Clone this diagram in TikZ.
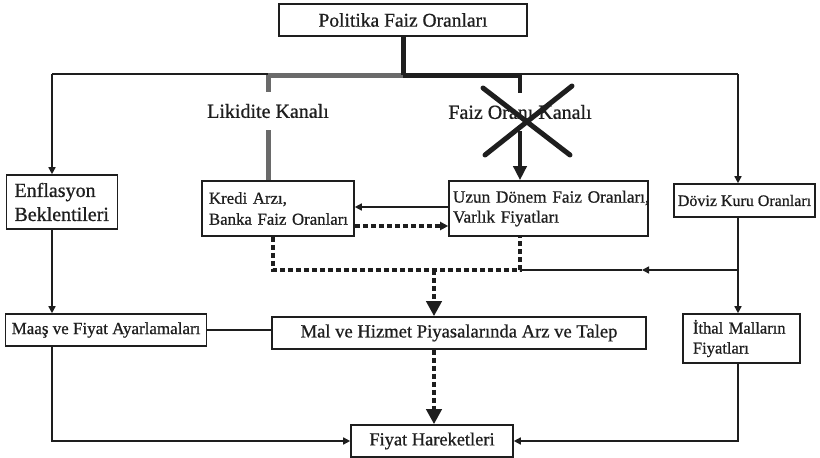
\documentclass[tikz,border=0pt]{standalone}
\usepackage{fontspec}
\setmainfont{Liberation Serif}[FakeBold=0.7]
\usetikzlibrary{arrows.meta}
\definecolor{ink}{HTML}{1E1E1E}
\definecolor{chgray}{HTML}{6A6A6A}
\newcommand{\fs}[2]{\fontsize{#1}{#2}\selectfont}
\begin{document}
\begin{tikzpicture}[x=1pt,y=-1pt,
  box/.style={draw=ink, line width=1.6pt, inner ysep=0pt, text=ink},
  lbl/.style={fill=white, inner xsep=4pt, inner ysep=12pt, text=ink},
  thinline/.style={draw=ink, line width=1.5pt},
  arr/.style={thinline, -{Triangle[length=7pt,width=7pt]}},
  bigarr/.style={draw=ink, line width=4pt, -{Triangle[length=14pt,width=13pt]}},
  dotline/.style={draw=ink, line width=4pt, dash pattern=on 5pt off 3pt},
  dotarr/.style={dotline, -{Triangle[length=15pt,width=15pt]}},
  dasharr/.style={dotline, line width=3.5pt, -{Triangle[length=8pt,width=8pt]}},
  graythick/.style={draw=chgray, line width=5pt},
  blackthick/.style={draw=ink, line width=5pt},
  crossline/.style={draw=ink, line width=5pt, line cap=round}]
\useasboundingbox (0,0) rectangle (820,458);
\fill[white] (0,0) rectangle (820,458);

% boxes
\node[box, minimum width=248pt, minimum height=32pt, font=\fs{19.5}{22}] (top) at (403,20) {Politika Faiz Oranları};
\node[box, minimum width=111pt, minimum height=54pt, inner xsep=8pt, text width=95pt, align=left, font=\fs{20}{24}] (enf) at (62,202) {\mbox{Enflasyon}\\\mbox{Beklentileri}};
\node[box, minimum width=152pt, minimum height=55pt, inner xsep=7pt, text width=138pt, align=left, font=\fs{16.8}{21}] (kredi) at (278,208.5) {\mbox{Kredi Arzı,}\\\mbox{Banka Faiz Oranları}};
\node[box, minimum width=199pt, minimum height=55pt, inner xsep=4pt, text width=191pt, align=left, font=\fs{17.2}{20}] (uzun) at (548.5,208.5) {\mbox{Uzun Dönem Faiz Oranları,}\\\mbox{Varlık Fiyatları}};
\node[box, minimum width=141pt, minimum height=33pt, font=\fs{16}{19}] (doviz) at (744.5,200.5) {Döviz Kuru Oranları};
\node[box, minimum width=201pt, minimum height=32pt, inner xsep=0pt, font=\fs{17}{20}] (maas) at (106,330) {Maaş ve Fiyat Ayarlamaları};
\node[box, minimum width=374pt, minimum height=32pt, font=\fs{18.6}{22}] (mal) at (459,333) {Mal ve Hizmet Piyasalarında Arz ve Talep};
\node[box, minimum width=117pt, minimum height=49pt, inner xsep=10pt, text width=97pt, align=left, font=\fs{16.5}{20}] (ithal) at (741.5,338.5) {\mbox{İthal Malların}\\\mbox{Fiyatları}};
\node[box, minimum width=162pt, minimum height=32pt, font=\fs{18.4}{22}] (fiyat) at (432,441) {Fiyat Hareketleri};

% junction coordinates
\coordinate (jc) at (403,75);
\coordinate (jl) at (268,75);
\coordinate (jr) at (520,75);
\coordinate (eL) at (52,74);
\coordinate (rR) at (738,74);
\coordinate (d1) at (273,270);
\coordinate (d2) at (520,270);
\coordinate (d3) at (434,270);
\coordinate (r1) at (738,270);
\coordinate (rm) at (642,270);

% thin distribution line and side arrows
\draw[thinline] (eL) -- (rR);
\draw[arr] (eL) -- (eL |- enf.north);
\draw[arr] (rR) -- (rR |- doviz.north);

% channels
\draw[graythick] (jl) -- (jl |- kredi.north);
\draw[graythick] (jl) -- (jc);
\draw[blackthick] (top.south -| jc) -- (jc);
\draw[blackthick] (jc) -- (jr);
\draw[bigarr] (jr) -- (jr |- uzun.north);
\node[lbl, font=\fs{20}{24}] (lik) at (268,111) {Likidite Kanalı};
\node[lbl, font=\fs{20}{24}] (faiz) at (520,112) {Faiz Oranı Kanalı};
\draw[crossline] (483,88) -- (570,155);
\draw[crossline] (572,86) -- (485,155);

% between kredi and uzun
\draw[arr] ([yshift=1.5pt]uzun.west) -- ([yshift=1.5pt]uzun.west -| kredi.east);
\draw[dasharr] ([yshift=-17.5pt]kredi.east) -- ([yshift=-17.5pt]kredi.east -| uzun.west);

% dotted collector
\draw[dotline] (kredi.south -| d1) -- (d1) -- (d2) -- (uzun.south -| d2);
\draw[dotarr] (d3) -- (d3 |- mal.north);
\draw[arr] (r1) -- (rm);
\draw[thinline] (rm) -- (d2);
\draw[arr] (doviz.south -| r1) -- (r1 |- ithal.north);
\draw[arr] (enf.south -| eL) -- (eL |- maas.north);
\draw[thinline] (maas.east) -- (maas.east -| mal.west);
\draw[dotarr] (mal.south -| d3) -- (d3 |- fiyat.north);
\draw[arr] (maas.south -| eL) |- (fiyat.west);
\draw[arr] (ithal.south -| r1) |- (fiyat.east);
\end{tikzpicture}
\end{document}
